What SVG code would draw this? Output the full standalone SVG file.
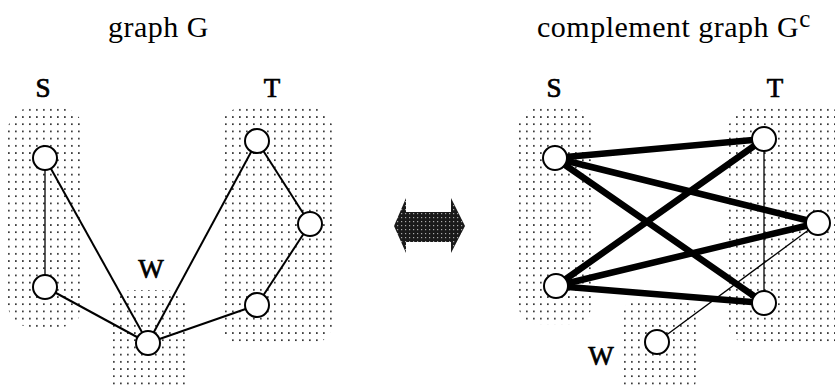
<svg xmlns="http://www.w3.org/2000/svg" width="835" height="388" viewBox="0 0 835 388">
<defs>
<pattern id="dots" width="7" height="7.2" patternUnits="userSpaceOnUse">
<rect x="1" y="1" width="1.7" height="1.7" fill="#333"/>
</pattern>
<pattern id="dark" width="4" height="4" patternUnits="userSpaceOnUse">
<rect width="4" height="4" fill="#1a1a1a"/>
<rect x="1" y="1" width="1.2" height="1.2" fill="#aaa"/>
</pattern>
</defs>
<style>
.title{font-family:"Liberation Serif","Times New Roman",serif;font-size:30px;letter-spacing:0.5px;fill:#000}
.lab{font-family:"Liberation Serif","Times New Roman",serif;font-size:27px;fill:#000;stroke:#000;stroke-width:0.7;text-anchor:middle}
.reg{fill:url(#dots)}
.e{stroke:#000;stroke-width:2;fill:none}
.thin{stroke:#000;stroke-width:1.3;fill:none}
.thick{stroke:#000;stroke-width:6.5;fill:none;stroke-linecap:round}
.n{fill:#fff;stroke:#000;stroke-width:2}
</style>
<g id="titles">
<text class="title" x="108" y="37">graph G</text>
<text class="title" x="537" y="37">complement graph G<tspan font-size="25" dy="-10" letter-spacing="0">c</tspan></text>
</g>
<g id="regions">
<rect class="reg" x="8" y="108" width="75" height="219" rx="22"/>
<rect class="reg" x="110" y="290" width="77" height="110" rx="22"/>
<rect class="reg" x="220" y="107" width="113" height="238" rx="24"/>
<rect class="reg" x="518" y="107" width="74" height="218" rx="22"/>
<rect class="reg" x="620" y="298" width="77" height="100" rx="22"/>
<rect class="reg" x="728" y="107" width="120" height="238" rx="24"/>
</g>
<g id="labels">
<text class="lab" x="43" y="97">S</text>
<text class="lab" x="272" y="97">T</text>
<text class="lab" x="151" y="278">W</text>
<text class="lab" x="554" y="97">S</text>
<text class="lab" x="775" y="97">T</text>
<text class="lab" x="601" y="365">W</text>
</g>
<g id="connectors">
<line class="thin" x1="45" y1="158" x2="45" y2="287"/>
<line class="e" x1="45" y1="158" x2="148" y2="343"/>
<line class="e" x1="45" y1="287" x2="148" y2="343"/>
<line class="e" x1="148" y1="343" x2="257" y2="141"/>
<line class="e" x1="148" y1="343" x2="257" y2="305"/>
<line class="e" x1="257" y1="141" x2="310" y2="224"/>
<line class="e" x1="310" y1="224" x2="257" y2="305"/>
<line class="thin" x1="764" y1="139" x2="764" y2="303"/>
<line class="thin" x1="657" y1="342" x2="818" y2="223"/>
<line class="thick" stroke-width="5" x1="555" y1="158" x2="764" y2="139"/>
<line class="thick" x1="555" y1="158" x2="818" y2="223"/>
<line class="thick" x1="555" y1="158" x2="764" y2="303"/>
<line class="thick" x1="556" y1="286" x2="764" y2="139"/>
<line class="thick" x1="556" y1="286" x2="818" y2="223"/>
<line class="thick" x1="556" y1="286" x2="764" y2="303"/>
</g>
<g id="arrow">
<polygon points="394,226 406,198 406,212 451,212 451,198 465,226 451,253 451,242 406,242 406,253" fill="url(#dark)"/>
</g>
<g id="G-S1"><circle class="n" cx="45" cy="158" r="12"/></g>
<g id="G-S2"><circle class="n" cx="45" cy="287" r="12"/></g>
<g id="G-W"><circle class="n" cx="148" cy="343" r="12"/></g>
<g id="G-T1"><circle class="n" cx="257" cy="141" r="12"/></g>
<g id="G-T2"><circle class="n" cx="310" cy="224" r="12"/></g>
<g id="G-T3"><circle class="n" cx="257" cy="305" r="12"/></g>
<g id="C-S1"><circle class="n" cx="555" cy="158" r="12"/></g>
<g id="C-S2"><circle class="n" cx="556" cy="286" r="12"/></g>
<g id="C-W"><circle class="n" cx="657" cy="342" r="12"/></g>
<g id="C-T1"><circle class="n" cx="764" cy="139" r="12"/></g>
<g id="C-T2"><circle class="n" cx="818" cy="223" r="12"/></g>
<g id="C-T3"><circle class="n" cx="764" cy="303" r="12"/></g>
</svg>
